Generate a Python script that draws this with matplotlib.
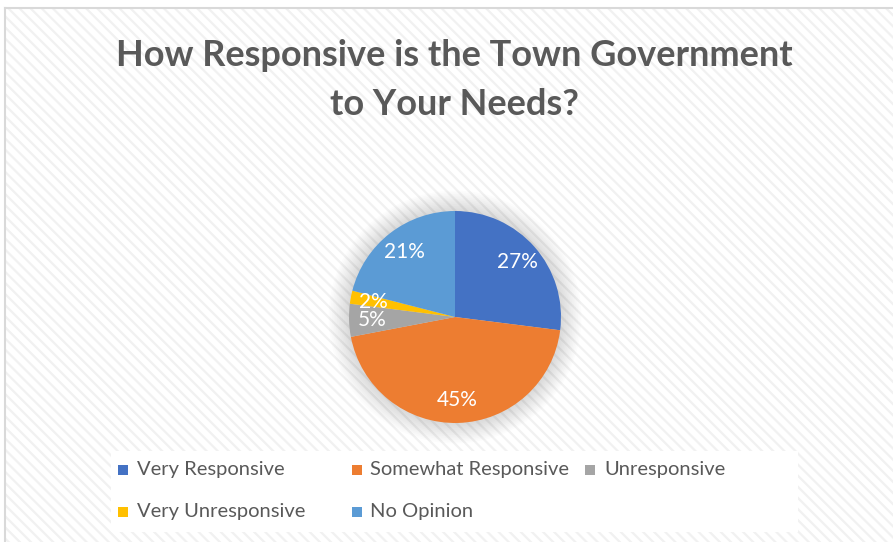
import numpy as np
import matplotlib.pyplot as plt
from matplotlib.patches import Rectangle, Circle

plt.rcParams['font.family'] = ['Lato', 'DejaVu Sans']
plt.rcParams['hatch.linewidth'] = 1.6

title = 'How Responsive is the Town Government\nto Your Needs?'
labels = ['Very Responsive', 'Somewhat Responsive', 'Unresponsive',
          'Very Unresponsive', 'No Opinion']
shares = [27, 45, 5, 2, 21]
colors = ['#4472C4', '#ED7D31', '#A5A5A5', '#FFC000', '#5B9BD5']

W, H = 893, 542
fig = plt.figure(figsize=(W / 100, H / 100), dpi=100)

# background in pixel coords
bg = fig.add_axes([0, 0, 1, 1])
bg.set_xlim(0, W)
bg.set_ylim(H, 0)
bg.axis('off')
bg.add_patch(Rectangle((5, 8), W, H, facecolor='white', edgecolor='#f1f1f1',
                       hatch='\\\\\\', linewidth=0))
bg.plot([5, 5], [8, H], color='#d9d9d9', lw=1.5)
bg.plot([5, W], [8, 8], color='#d9d9d9', lw=1.5)

bg.text(454, 80, title, ha='center', va='center', fontsize=26, fontweight='bold',
        color='#595959', linespacing=1.6)

# legend box + entries, Excel-style equal columns
bg.add_patch(Rectangle((111, 451), 687, 81, facecolor='white', edgecolor='none'))
for i, (lab, col) in enumerate(zip(labels, colors)):
    r, c = divmod(i, 3)
    x = 118 + c * 233.5
    y = 470 + r * 42
    bg.add_patch(Rectangle((x, y - 5), 10, 10, facecolor=col, edgecolor='none'))
    bg.text(x + 19, y, lab, ha='left', va='center', fontsize=14.5, color='#595959')

# pie
cx, cy, rad = 455, 317, 106
ax = fig.add_axes([(cx - rad) / W, (H - cy - rad) / H, 2 * rad / W, 2 * rad / H])
ax.axis('off')

# soft glow behind the pie
for k in range(12):
    ax.add_patch(Circle((0, 0), 1.0 + 0.016 * (k + 1), facecolor='#808080',
                        edgecolor='none', alpha=0.025, zorder=0, clip_on=False))

wedges, texts, autotexts = ax.pie(shares, colors=colors, startangle=90,
                                  counterclock=False, autopct='%d%%',
                                  pctdistance=0.78, radius=1,
                                  wedgeprops=dict(edgecolor='none'),
                                  textprops=dict(color='white', fontsize=15))
ax.set_xlim(-1, 1)
ax.set_ylim(-1, 1)

fig.savefig('out.png', dpi=100)
